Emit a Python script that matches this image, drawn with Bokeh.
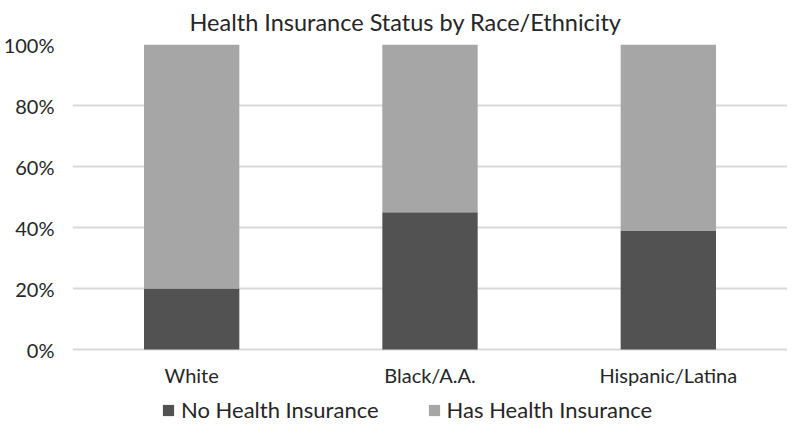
from bokeh.plotting import figure
from bokeh.models import FactorRange, Range1d, NumeralTickFormatter, Legend, Title, ColumnDataSource
from bokeh.core.properties import value
from bokeh.embed import file_html
from bokeh.resources import INLINE

categories = ["White", "Black/A.A.", "Hispanic/Latina"]
series_names = ["No Health Insurance", "Has Health Insurance"]
no_insurance = [0.20, 0.45, 0.39]
has_insurance = [0.80, 0.55, 0.61]
y_ticks = [0, 0.2, 0.4, 0.6, 0.8, 1.0]

FONT = "Lato"
TEXT = "#262626"
DARK = "#525252"
LIGHT = "#a6a6a6"

source = ColumnDataSource(dict(cat=categories, no=no_insurance, has=has_insurance))

# frame extends below 0% so the category labels and legend are drawn inside it
p = figure(frame_width=715, frame_height=379, output_backend="svg", toolbar_location=None,
           x_range=FactorRange(factors=categories, range_padding=0),
           y_range=Range1d(-74 / 305, 1),
           min_border_left=61, min_border_right=0, min_border_top=0, min_border_bottom=0)
p.title = None
title = Title(text="Health Insurance Status by Race/Ethnicity", align="left", offset=117,
              text_font=FONT, text_font_size="23.5px", text_font_style="normal",
              text_color=TEXT, vertical_align="top", standoff=14)
p.add_layout(title, "above")

renderers = p.vbar_stack(["no", "has"], x="cat", width=0.4, source=source,
                         color=[DARK, LIGHT], line_color=None)

# category labels
p.text(x="cat", y=-0.085, text="cat", source=source,
       text_font=value(FONT), text_font_size=value("20px"), text_color=TEXT,
       text_align="center", text_baseline="middle")

p.outline_line_color = None
p.xgrid.grid_line_color = None
p.ygrid.grid_line_color = "#d9d9d9"
p.ygrid.grid_line_width = 2
p.ygrid.ticker = y_ticks
p.xaxis.visible = False

p.yaxis.ticker = y_ticks
p.yaxis.formatter = NumeralTickFormatter(format="0%")
ax = p.yaxis[0]
ax.axis_line_color = None
ax.major_tick_line_color = None
ax.minor_tick_line_color = None
ax.major_label_text_font = FONT
ax.major_label_text_font_size = "20px"
ax.major_label_text_color = TEXT
ax.major_label_standoff = 12

legend = Legend(items=[(series_names[0], [renderers[0]]), (series_names[1], [renderers[1]])],
                orientation="horizontal", location=(89, 0),
                label_text_font=FONT, label_text_font_size="22px", label_text_color=TEXT,
                glyph_width=14, glyph_height=14, label_standoff=6, spacing=48,
                padding=2, margin=0, border_line_color=None, background_fill_alpha=0)
p.add_layout(legend, "center")

open("out.html", "w").write(file_html(p, INLINE))
